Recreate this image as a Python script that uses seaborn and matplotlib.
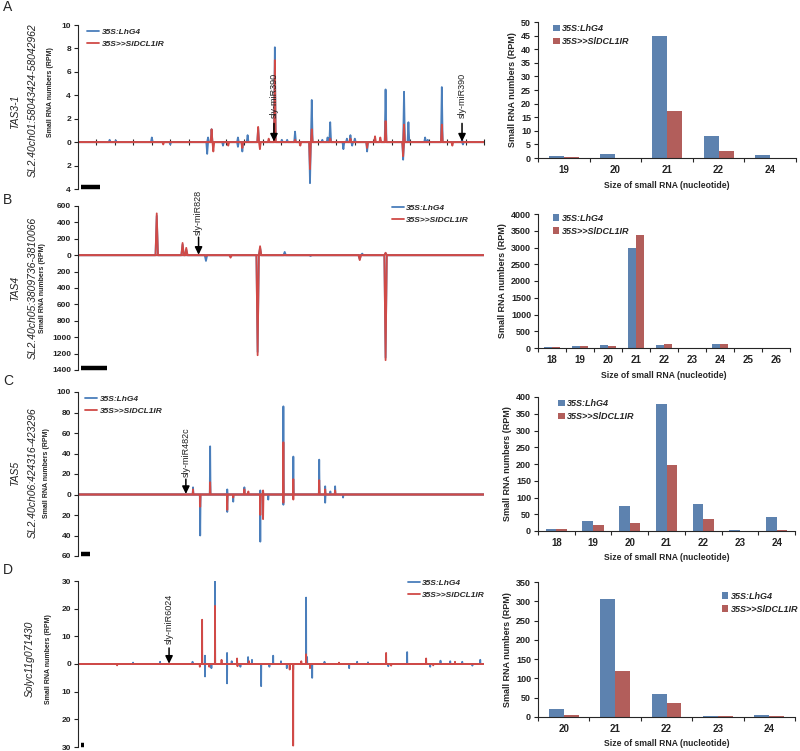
import numpy as np
import pandas as pd
import matplotlib
matplotlib.use("Agg")
import matplotlib.pyplot as plt
from matplotlib.ticker import FuncFormatter
import seaborn as sns

sns.set_style("ticks")
plt.rcParams['font.family'] = ['Liberation Sans', 'DejaVu Sans']
plt.rcParams['font.weight'] = 'bold'
plt.rcParams['axes.labelweight'] = 'bold'

## data
GENOTYPES = ['35S:LhG4', '35S>>SlDCL1IR']

# coverage profiles, (position nt, RPM) peaks; minus = antisense strand
A_LEN = 462
A_LHG4_PLUS = [(36, 0.2), (43, 0.15), (84, 0.4), (148, 0.4), (152, 1.1), (182, 0.4), (193, 0.6),
               (205, 1.2), (224, 8.1), (232, 0.2), (238, 0.2), (247, 0.9), (266, 3.6), (278, 0.2),
               (284, 0.4), (287, 1.7), (306, 0.3), (310, 0.6), (315, 0.3), (344, 0.2), (350, 4.5),
               (371, 4.3), (376, 1.7), (395, 0.4), (398, 0.2), (414, 4.7), (437, 0.2)]
A_DCL_PLUS = [(152, 1.1), (205, 1.3), (217, 0.3), (224, 7.0), (247, 0.2), (266, 1.1), (287, 0.3),
              (310, 0.3), (338, 0.5), (344, 0.4), (350, 1.8), (371, 1.5), (414, 1.5)]
A_LHG4_MINUS = [(105, 0.2), (147, 1.0), (165, 0.3), (182, 0.4), (187, 0.8), (264, 3.5), (302, 0.6),
                (312, 0.3), (329, 0.8), (370, 1.5), (438, 0.2)]
A_DCL_MINUS = [(97, 0.2), (154, 0.8), (171, 0.3), (187, 0.5), (207, 0.6), (253, 0.3), (264, 2.3),
               (329, 0.5), (370, 1.2), (426, 0.3)]

B_LEN = 330
B_LHG4_PLUS = [(64, 480), (85, 130), (88, 70), (148, 90), (168, 40), (231, 20), (250, 25)]
B_DCL_PLUS = [(64, 510), (85, 150), (88, 90), (148, 110), (250, 30)]
B_LHG4_MINUS = [(104, 70), (124, 20), (146, 1180), (189, 10), (229, 50), (250, 1250)]
B_DCL_MINUS = [(104, 10), (124, 30), (146, 1220), (229, 60), (250, 1280)]

C_LEN = 1020
C_LHG4_PLUS = [(289, 7), (332, 47), (375, 5), (418, 7), (458, 4), (516, 86), (541, 37), (606, 34),
               (621, 8), (634, 3), (646, 8)]
C_DCL_PLUS = [(289, 5), (332, 12), (418, 5), (428, 3), (465, 4), (516, 51), (541, 15), (606, 14),
              (621, 5), (646, 4)]
C_LHG4_MINUS = [(307, 40), (375, 17), (390, 7), (458, 46), (478, 5), (516, 10), (621, 8), (666, 3)]
C_DCL_MINUS = [(307, 12), (375, 15), (390, 3), (458, 20), (465, 24), (516, 8), (541, 5)]

D_LEN = 2800
D_LHG4_PLUS = [(380, 0.5), (566, 0.8), (790, 0.8), (856, 3.5), (876, 3), (945, 30), (1028, 4),
               (1060, 1), (1097, 1), (1173, 2.5), (1200, 1.5), (1346, 3), (1400, 1), (1573, 24),
               (1580, 2.5), (1700, 0.8), (1925, 0.8), (2000, 0.6), (2270, 4.3), (2500, 1.2),
               (2567, 1), (2650, 0.8), (2774, 1.5)]
D_DCL_PLUS = [(856, 16), (945, 21), (990, 1.5), (1097, 2), (1180, 1), (1540, 1), (1573, 3.5),
              (1800, 0.5), (2125, 4), (2401, 2), (2600, 0.8)]
D_LHG4_MINUS = [(876, 4.5), (920, 1.5), (1028, 7), (1120, 1), (1263, 8), (1320, 1), (1440, 1.5),
                (1484, 2), (1615, 5), (1870, 1.5), (2140, 0.8), (2429, 1), (2720, 0.6)]
D_DCL_MINUS = [(270, 0.5), (840, 1), (905, 1), (1100, 0.8), (1460, 2), (1484, 29.5), (1600, 1.5),
               (2160, 0.6), (2450, 0.5)]

# size distributions
A_SIZES = ['19', '20', '21', '22', '24']
A_LHG4 = [0.8, 1.4, 44.8, 8.2, 1.1]
A_DCL = [0.5, 0, 17.2, 2.4, 0]
B_SIZES = ['18', '19', '20', '21', '22', '23', '24', '25', '26']
B_LHG4 = [25, 50, 75, 2980, 90, 0, 105, 0, 0]
B_DCL = [25, 50, 55, 3370, 130, 0, 105, 0, 0]
C_SIZES = ['18', '19', '20', '21', '22', '23', '24']
C_LHG4 = [6, 30, 76, 380, 82, 4, 42]
C_DCL = [5, 17, 23, 198, 37, 0, 4]
D_SIZES = ['20', '21', '22', '23', '24']
D_LHG4 = [20, 305, 60, 2, 5]
D_DCL = [6, 120, 36, 2, 2]

BLUE = '#4a7ebb'
RED = '#d04a47'
BAR_BLUE = '#4f81bd'
BAR_RED = '#c0504d'

fig = plt.figure(figsize=(8, 7.51), dpi=100)
H = 751.0


def add_ax(x0, y0, x1, y1):
    # pixel box -> figure fraction
    return fig.add_axes([x0 / 800, (H - y1) / H, (x1 - x0) / 800, (y1 - y0) / H])


def coverage(ax, length, lp, lm, dp, dm, ylo, yhi, step):
    pos = np.arange(length + 1)
    for peaks, sign, col, lab in [(lp, 1, BLUE, GENOTYPES[0]), (lm, -1, BLUE, None),
                                  (dp, 1, RED, GENOTYPES[1]), (dm, -1, RED, None)]:
        y = np.zeros(length + 1)
        for p, v in peaks:
            y[p] = sign * v
        sns.lineplot(x=pos, y=y, color=col, lw=1.3, label=lab, estimator=None, ax=ax)
    ax.set_xlim(0, length)
    ax.set_ylim(ylo, yhi)
    ax.set_yticks(np.arange(ylo, yhi + step / 2, step))
    ax.yaxis.set_major_formatter(FuncFormatter(lambda v, p: '%g' % abs(v)))
    ax.tick_params(axis='y', labelsize=6, length=3, width=0.8, pad=2, colors='#222222')
    for s in ['top', 'right']:
        ax.spines[s].set_visible(False)
    ax.spines['left'].set_linewidth(0.8)
    ax.spines['bottom'].set_position(('data', 0))
    ax.spines['bottom'].set_edgecolor('none')
    ax.set_xticks([])
    ax.set_xlabel('')
    ax.set_ylabel('')
    # 21-nt scale bar
    ax.plot([0.008 * length, 0.008 * length + 21], [0.012, 0.012], color='black', lw=3.2,
            solid_capstyle='butt', transform=ax.get_xaxis_transform(), clip_on=False)


def mir_arrow(ax, x, tip, top, txt_y, name):
    ax.annotate('', xy=(x, tip), xytext=(x, top),
                arrowprops=dict(arrowstyle='-|>,head_width=0.22,head_length=0.45', color='black',
                                lw=1.1, shrinkA=0, shrinkB=0))
    ax.text(x, txt_y, name, rotation=90, ha='center', va='bottom', fontsize=6.5,
            fontweight='normal', color='#222222')


def line_legend(ax, bx, by):
    ax.legend(loc='upper left', bbox_to_anchor=(bx, by), frameon=False, handlelength=1.4,
              handletextpad=0.3, labelspacing=0.5, borderaxespad=0,
              prop=dict(size=6, weight='bold', style='italic'))


def size_bars(ax, sizes, lhg4, dcl, ytop, ystep, lx, ly):
    df = pd.DataFrame({'size': sizes * 2,
                       'rpm': lhg4 + dcl,
                       'genotype': [GENOTYPES[0]] * len(sizes) + [GENOTYPES[1]] * len(sizes)})
    sns.barplot(data=df, x='size', y='rpm', hue='genotype', order=sizes, hue_order=GENOTYPES,
                palette=[BAR_BLUE, BAR_RED], width=0.58, linewidth=0, ax=ax)
    n = len(sizes)
    ax.set_xlim(-0.5, n - 0.5)
    ax.set_ylim(0, ytop)
    ax.set_yticks(np.arange(0, ytop + ystep / 2, ystep))
    ax.set_xticks(np.arange(n + 1) - 0.5, minor=True)
    ax.tick_params(axis='x', which='major', length=0, labelsize=7, pad=5, colors='#222222')
    ax.tick_params(axis='x', which='minor', length=3, width=0.8)
    ax.tick_params(axis='y', labelsize=6.5, length=3, width=0.8, pad=2, colors='#222222')
    for s in ['top', 'right']:
        ax.spines[s].set_visible(False)
    ax.spines['left'].set_linewidth(0.8)
    ax.spines['bottom'].set_linewidth(0.8)
    ax.set_xlabel('Size of small RNA (nucleotide)', fontsize=6.2, labelpad=4)
    ax.set_ylabel('Small RNA numbers (RPM)', fontsize=6.5, labelpad=3)
    ax.legend(loc='upper left', bbox_to_anchor=(lx, ly), frameon=False, handlelength=0.7,
              handleheight=0.7, handletextpad=0.3, labelspacing=0.45, borderaxespad=0,
              prop=dict(size=6.5, weight='bold', style='italic'))


## A
axA = add_ax(78, 25, 484, 189)
coverage(axA, A_LEN, A_LHG4_PLUS, A_LHG4_MINUS, A_DCL_PLUS, A_DCL_MINUS, -4, 10, 2)
axA.set_xticks(np.arange(21, A_LEN + 1, 21))
axA.tick_params(axis='x', direction='inout', length=5, width=0.8, labelbottom=False)
mir_arrow(axA, 223, 0.05, 1.6, 2.1, 'sly-miR390')
mir_arrow(axA, 437, 0.05, 1.6, 2.1, 'sly-miR390')
line_legend(axA, 0.015, 1.0)
axA2 = add_ax(538, 22, 796, 158)
size_bars(axA2, A_SIZES, A_LHG4, A_DCL, 50, 5, 0.045, 1.01)

## B
axB = add_ax(78, 206, 484, 370)
coverage(axB, B_LEN, B_LHG4_PLUS, B_LHG4_MINUS, B_DCL_PLUS, B_DCL_MINUS, -1400, 600, 200)
mir_arrow(axB, 98, 5, 220, 250, 'sly-miR828')
line_legend(axB, 0.765, 1.03)
axB2 = add_ax(538, 214, 790, 348)
size_bars(axB2, B_SIZES, B_LHG4, B_DCL, 4000, 500, 0.045, 1.03)

## C
axC = add_ax(78, 392, 484, 556)
coverage(axC, C_LEN, C_LHG4_PLUS, C_LHG4_MINUS, C_DCL_PLUS, C_DCL_MINUS, -60, 100, 20)
mir_arrow(axC, 271, 0.5, 15, 17, 'sly-miR482c')
line_legend(axC, 0.01, 1.0)
axC2 = add_ax(538, 397, 795, 531)
size_bars(axC2, C_SIZES, C_LHG4, C_DCL, 400, 50, 0.065, 1.01)

## D
axD = add_ax(78, 581, 484, 747)
coverage(axD, D_LEN, D_LHG4_PLUS, D_LHG4_MINUS, D_DCL_PLUS, D_DCL_MINUS, -30, 30, 10)
mir_arrow(axD, 628, 0.1, 5.8, 7.3, 'sly-miR6024')
line_legend(axD, 0.805, 1.03)
axD2 = add_ax(538, 582, 795, 717)
size_bars(axD2, D_SIZES, D_LHG4, D_DCL, 350, 50, 0.70, 0.955)

## labels
for lab, y in [('A', 7), ('B', 200), ('C', 381), ('D', 570)]:
    fig.text(3 / 800, 1 - y / H, lab, fontsize=10, fontweight='normal', va='center', ha='left')

genes = [('TAS3-1', 15, 112), ('SL2.40ch01:58043424-58042962', 33, 100),
         ('TAS4', 15, 288), ('SL2.40ch05:3809736-3810066', 33, 288),
         ('TAS5', 15, 473), ('SL2.40ch06:424316-423296', 33, 473),
         ('Solyc11g071430', 30, 659)]
for txt, x, y in genes:
    fig.text(x / 800, 1 - y / H, txt, rotation=90, fontsize=7.5, fontweight='normal',
             style='italic', ha='center', va='center', color='#222222')

for x, y in [(50, 92), (43, 288), (47, 473), (48, 659)]:
    fig.text(x / 800, 1 - y / H, 'Small RNA numbers (RPM)', rotation=90, fontsize=5,
             fontweight='bold', ha='center', va='center')

fig.savefig('out.png', dpi=100)
